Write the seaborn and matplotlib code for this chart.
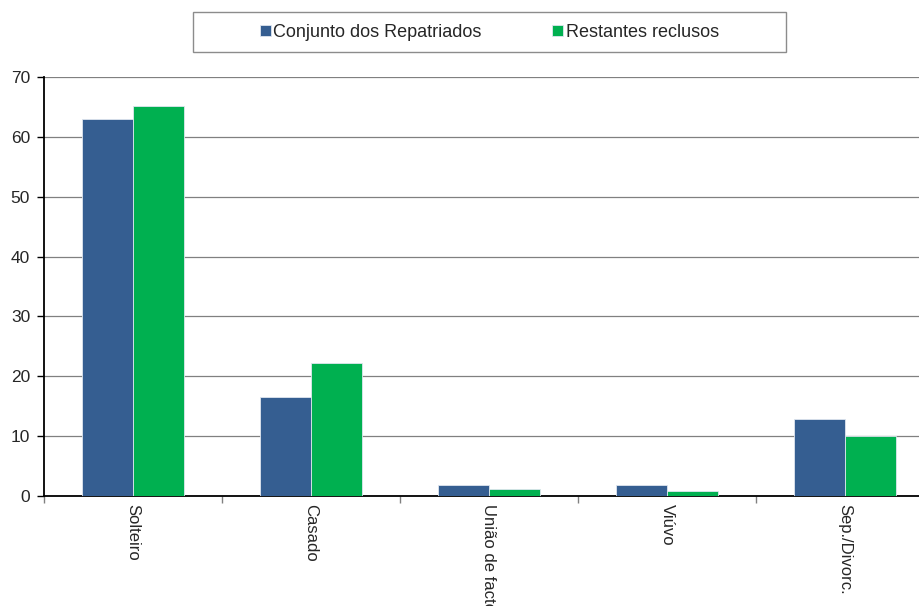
import matplotlib
matplotlib.use('Agg')
import matplotlib.pyplot as plt
import matplotlib.patches as mpatches
import seaborn as sns
import pandas as pd
import numpy as np

# dados
categorias = ['Solteiro', 'Casado', 'União de facto', 'Viúvo', 'Sep./Divorc.']
repatriados = [62.9, 16.6, 1.8, 1.8, 12.9]
restantes = [65.2, 22.2, 1.2, 0.85, 10.0]
series = ['Conjunto dos Repatriados', 'Restantes reclusos']
cores = ['#355E91', '#00B050']

df = pd.DataFrame({
    'Estado civil': categorias * 2,
    'Valor': repatriados + restantes,
    'Grupo': [series[0]] * len(categorias) + [series[1]] * len(categorias),
})

sns.set_style('white')
plt.rcParams['font.family'] = ['Liberation Sans', 'DejaVu Sans']
plt.rcParams['font.size'] = 12.5

fig = plt.figure(figsize=(9.2, 6.06), dpi=100)
ax = fig.add_axes([44/920, 110/606, 890/920, 419/606])

sns.barplot(data=df, x='Estado civil', y='Valor', hue='Grupo', order=categorias,
            hue_order=series, palette=cores, width=0.57, gap=0, ax=ax,
            edgecolor='#dfe6ef', linewidth=0.6, saturation=1, zorder=3)

ax.set_xlim(-0.5, len(categorias) - 0.5)
ax.set_ylim(0, 70)
ax.set_yticks(np.arange(0, 71, 10))
ax.yaxis.grid(True, color='#808080', linewidth=0.9, zorder=0)
ax.set_axisbelow(True)

# ticks nos limites das categorias, rótulos no centro
ax.set_xticks(np.arange(-0.5, len(categorias), 1))
ax.set_xticklabels([])
ax.set_xticks(np.arange(len(categorias)), minor=True)
ax.set_xticklabels(categorias, minor=True, rotation=270, va='top', ha='center', fontsize=12)
ax.tick_params(axis='x', which='major', direction='out', length=5, width=1, color='#808080', bottom=True)
ax.tick_params(axis='x', which='minor', length=0, pad=6)
ax.tick_params(axis='y', direction='out', length=5, width=1, color='black', left=True,
               pad=5, labelsize=12.5)

for s in ['top', 'right']:
    ax.spines[s].set_visible(False)
for s in ['left', 'bottom']:
    ax.spines[s].set_color('black')
    ax.spines[s].set_linewidth(1.3)

ax.set_xlabel('')
ax.set_ylabel('')

# legenda
handles, labels = ax.get_legend_handles_labels()
ax.legend_.remove()
fig.legend(handles, labels, loc='center', bbox_to_anchor=(0.532, 0.947), ncol=2,
           frameon=False, handlelength=0.6, handleheight=0.6, handletextpad=0.15,
           columnspacing=3.9, fontsize=13)
fig.patches.append(mpatches.Rectangle((193/920, 1 - 52/606), 593/920, 40/606,
                                      transform=fig.transFigure, fill=False,
                                      edgecolor='#8c8c8c', linewidth=1))

plt.savefig('out.png', dpi=100)
